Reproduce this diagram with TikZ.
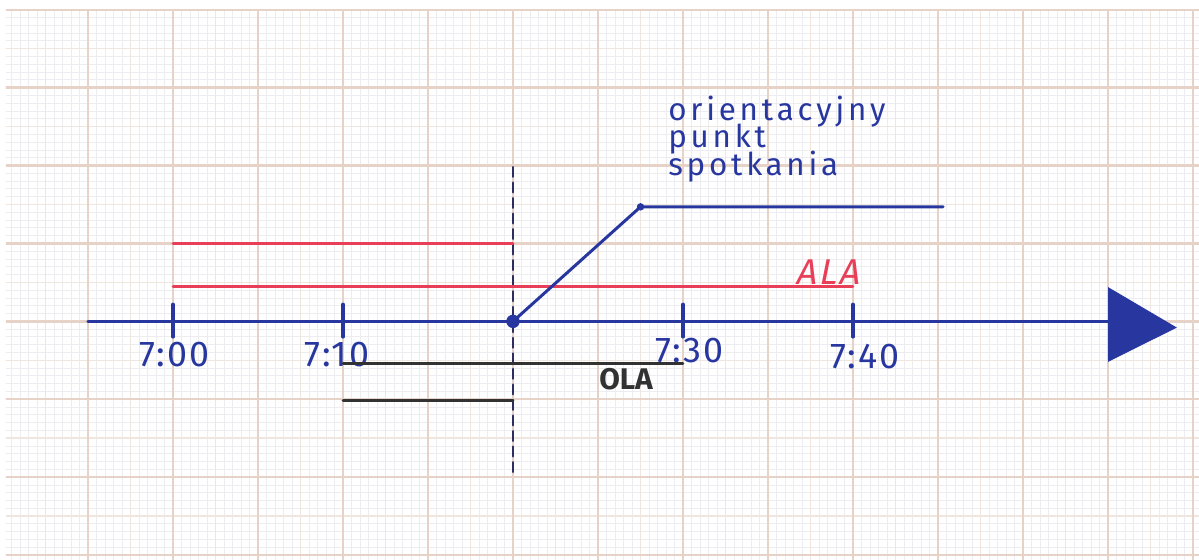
\documentclass[tikz,border=0pt]{standalone}
\usepackage{fontspec}
\setmainfont{Fira Sans}
\usetikzlibrary{calc}

\definecolor{ink}{RGB}{40,55,160}
\definecolor{redink}{RGB}{232,62,88}
\definecolor{blackink}{RGB}{50,50,50}
\definecolor{dashink}{RGB}{45,45,95}
\definecolor{gridmajor}{RGB}{230,210,198}
\definecolor{gridmid}{RGB}{240,230,224}
\definecolor{gridminor}{RGB}{237,237,241}

\newcommand\notefont{\fontsize{10.5}{9.2}\selectfont
  \lineskiplimit=-20pt\relax\lineskip=0pt\relax
  \addfontfeatures{LetterSpace=12}}

\tikzset{
  hand/.style={font=\fontsize{12}{12}\selectfont\addfontfeatures{LetterSpace=6}},
  timelabel/.style={hand, text=ink, inner sep=0},
}

\begin{document}
\begin{tikzpicture}[x=1cm, y=0.9165cm, line cap=round]
  \useasboundingbox (-0.035,-0.051) rectangle (14.07,7.125);

  % millimetre paper
  \begin{scope}
    \clip (0.035,-0.051) rectangle (14.07,7.0);
    \foreach \i in {0,...,141} {
      \draw[gridminor, line width=0.3pt] ({\i/10},-0.1) -- ({\i/10},7.1);
    }
    \foreach \j in {-1,...,71} {
      \draw[gridminor, line width=0.3pt] (0,{\j/10}) -- (14.1,{\j/10});
    }
    \foreach \i in {0,...,14} {
      \draw[gridmid, line width=0.5pt] ({\i+0.5},-0.1) -- ({\i+0.5},7.1);
    }
    \foreach \j in {0,...,7} {
      \draw[gridmid, line width=0.5pt] (0,{\j+0.5}) -- (14.1,{\j+0.5});
    }
    \foreach \i in {0,...,14} {
      \draw[gridmajor, line width=0.8pt] (\i,-0.1) -- (\i,7.1);
    }
    \foreach \j in {0,...,7} {
      \draw[gridmajor, line width=0.8pt] (0,\j) -- (14.1,\j);
    }
  \end{scope}

  % time axis
  \coordinate (axisstart) at (1,3);
  \coordinate (axisend) at (13.0,3);
  \coordinate (headtop) at (13.0,3.44);
  \coordinate (headbot) at (13.0,2.48);
  \coordinate (headtip) at (13.81,2.92);
  \draw[ink, line width=1.1pt] (axisstart) -- (axisend);
  \fill[ink] (headtop) -- (headtip) -- (headbot) -- cycle;

  % ticks
  \foreach \x/\name in {2/a, 4/b, 8/c, 10/d} {
    \coordinate (tick\name top) at (\x,3.22);
    \coordinate (tick\name bot) at (\x,2.8);
    \draw[ink, line width=1.1pt] (tick\name top) -- (tick\name bot);
  }

  \node[timelabel] at (2.02,2.57) (t700) {7:00};
  \node[timelabel] at (3.93,2.57) (t710) {7:10};
  \node[timelabel] at (8.08,2.63) (t730) {7:30};
  \node[timelabel] at (10.14,2.55) (t740) {7:40};

  % dashed line of the moment
  \coordinate (dashtop) at (6,4.98);
  \coordinate (dashbot) at (6,1.03);
  \draw[dashink, line width=0.9pt, dash pattern=on 3.2pt off 2pt] (dashtop) -- (dashbot);

  % ALA
  \coordinate (ala1a) at (2,4);
  \coordinate (ala1b) at (6,4);
  \coordinate (ala2a) at (2,3.45);
  \coordinate (ala2b) at (10,3.45);
  \draw[redink, line width=0.9pt] (ala1a) -- (ala1b);
  \draw[redink, line width=0.9pt] (ala2a) -- (ala2b);
  \node[hand, text=redink, inner sep=0, xslant=0.2] at (9.73,3.63) (labelAla) {ALA};

  % OLA
  \coordinate (ola1a) at (4,2.46);
  \coordinate (ola1b) at (8,2.46);
  \coordinate (ola2a) at (4,1.98);
  \coordinate (ola2b) at (6,1.98);
  \draw[blackink, line width=0.9pt] (ola1a) -- (ola1b);
  \draw[blackink, line width=0.9pt] (ola2a) -- (ola2b);
  \node[text=blackink, inner sep=0, font=\fontsize{10}{10}\selectfont\bfseries] at (7.33,2.26) (labelOla) {OLA};

  % meeting
  \node[fill=ink, inner sep=0, minimum size=4.5pt, circle] at (6,3) (now) {};
  \node[fill=ink, inner sep=0, minimum size=2.5pt, circle] at (7.5,4.47) (meet) {};
  \coordinate (meetend) at (11.06,4.47);
  \draw[ink, line width=1pt] (now.center) -- (meet.center) -- (meetend);

  \node[text=ink, anchor=north west, inner sep=0, align=left, font=\notefont]
    at (7.82,5.9) (note) {orientacyjny\\punkt\\spotkania};

\end{tikzpicture}
\end{document}
